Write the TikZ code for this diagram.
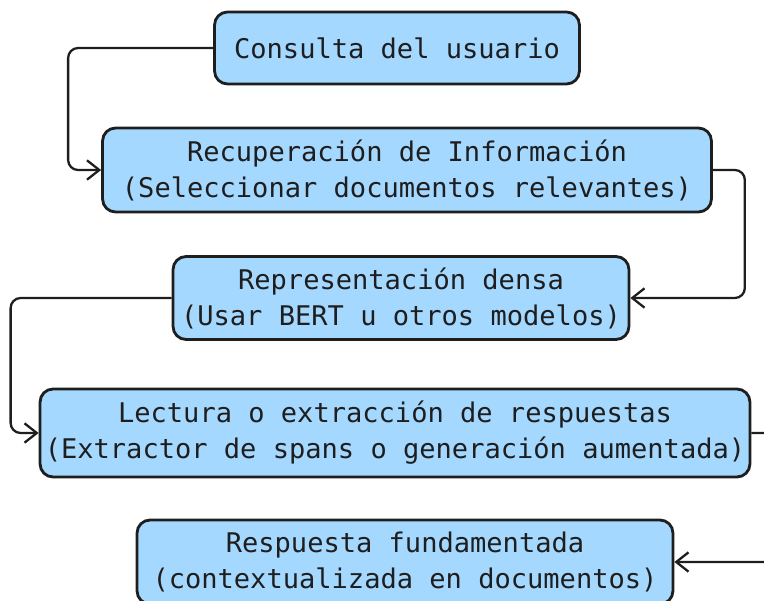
\documentclass[tikz,border=0pt]{standalone}
\usepackage{fontspec}
\setmonofont{DejaVu Sans Mono}
\usepackage{tikz}
\usetikzlibrary{arrows,arrows.meta,positioning}
\usepackage{xcolor}
\definecolor{rgblue}{HTML}{A5D8FF}
\definecolor{rgdark}{HTML}{1E1E1E}
\tikzstyle{box} = [draw=rgdark, fill=rgblue, line width=1.6pt, rounded corners=0.26cm, inner sep=0pt, align=center, font=\ttfamily\fontsize{15.4pt}{20.5pt}\selectfont, text=rgdark]
\tikzstyle{arrow} = [line width=1.3pt, color=rgdark, rounded corners=0.2cm, -{Straight Barb[length=7pt,width=11pt]}]

\begin{document}
\begin{tikzpicture}[x=0.02cm, y=-0.02cm]
\useasboundingbox (0,0) rectangle (764,601);
\clip (0,0) rectangle (764,601);

% Boxes
\node[box, minimum width=7.3cm, minimum height=1.44cm] (consulta) at (397,48) {Consulta del usuario};
\node[box, minimum width=12.18cm, minimum height=1.68cm] (recup) at (407,170) {Recuperación de Información\\(Seleccionar documentos relevantes)};
\node[box, minimum width=9.12cm, minimum height=1.66cm] (repr) at (401,298) {Representación densa\\(Usar BERT u otros modelos)};
\node[box, minimum width=14.2cm, minimum height=1.76cm] (lectura) at (395,433) {Lectura o extracción de respuestas\\(Extractor de spans o generación aumentada)};
\node[box, minimum width=10.72cm, minimum height=1.68cm] (resp) at (405,562) {Respuesta fundamentada\\(contextualizada en documentos)};

% Arrows
\draw[arrow] (consulta.west) -- ++(-145,0) |- (recup.west);
\draw[arrow] (recup.east) -- ++(32,0) |- (repr.east);
\draw[arrow] (repr.west) -- ++(-161,0) |- (lectura.west);
\draw[arrow] (lectura.east) -- ++(40,0) |- (resp.east);
\end{tikzpicture}
\end{document}
